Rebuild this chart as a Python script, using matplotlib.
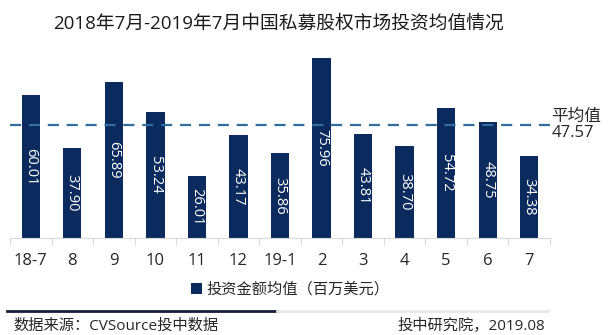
import matplotlib
matplotlib.use("Agg")
import matplotlib.pyplot as plt
from matplotlib.lines import Line2D

plt.rcParams['font.family'] = ['Open Sans', 'Noto Sans CJK SC', 'DejaVu Sans']

months = ['18-7', '8', '9', '10', '11', '12', '19-1', '2', '3', '4', '5', '6', '7']
avg_invest = [60.01, 37.90, 65.89, 53.24, 26.01, 43.17, 35.86,
              75.96, 43.81, 38.70, 54.72, 48.75, 34.38]
mean_value = 47.57

title = '2018年7月-2019年7月中国私募股权市场投资均值情况'
series_name = '投资金额均值（百万美元）'
source_note = '数据来源：CVSource投中数据'
credit_note = '投中研究院，2019.08'

navy = '#0b2a5e'
dash_blue = '#2f6e9e'
grey_text = '#262626'

fig = plt.figure(figsize=(6.1, 3.35), dpi=100)
ax = fig.add_axes([10 / 610, 97 / 335, 540 / 610, 190 / 335])

x = list(range(len(months)))
bars = ax.bar(x, avg_invest, width=0.44, color=navy, label=series_name, zorder=2)

for rect, v in zip(bars, avg_invest):
    ax.text(rect.get_x() + rect.get_width() / 2, v / 2, f'{v:.2f}',
            rotation=-90, ha='center', va='center', color='white',
            fontsize=10.5, zorder=3)

# average line across the plot
ax.axhline(mean_value, color=dash_blue, lw=1.6, ls=(0, (5, 3.5)), zorder=4)
ax.text(1.003, mean_value, '平均值\n47.57', transform=ax.get_yaxis_transform(),
        ha='left', va='center', fontsize=12, color=grey_text, linespacing=1.05)

ax.set_xlim(-0.5, len(months) - 0.5)
ax.set_ylim(0, 80)
ax.set_yticks([])
ax.set_xticks(x)
ax.set_xticklabels(months, fontsize=12, color=grey_text)
ax.set_xticks([i - 0.5 for i in range(len(months) + 1)], minor=True)
ax.tick_params(axis='x', which='major', length=0, pad=11)
ax.tick_params(axis='x', which='minor', length=5, color='#d9d9d9', width=0.8)
for s in ['top', 'right', 'left']:
    ax.spines[s].set_visible(False)
ax.spines['bottom'].set_color('#d9d9d9')
ax.spines['bottom'].set_linewidth(0.8)

fig.text(279 / 610, 1 - 24 / 335, title, ha='center', va='center',
         fontsize=13.5, color='#1a1a1a')

fig.legend(handles=[bars], labels=[series_name], loc='center',
           bbox_to_anchor=(290 / 610, 1 - 290 / 335), frameon=False,
           fontsize=11, handlelength=0.7, handleheight=0.7,
           handletextpad=0.3, labelcolor=grey_text)

# footer rule: dark left part, light grey remainder
fig.add_artist(Line2D([7 / 610, 277 / 610], [1 - 311 / 335] * 2,
                      color='#141e3c', lw=2))
fig.add_artist(Line2D([277 / 610, 548 / 610], [1 - 311 / 335] * 2,
                      color='#e8e8e8', lw=2))

fig.text(13 / 610, 1 - 326 / 335, source_note, ha='left', va='center',
         fontsize=11, color=grey_text)
fig.text(545 / 610, 1 - 326 / 335, credit_note, ha='right', va='center',
         fontsize=11, color=grey_text)

fig.savefig('out.png', dpi=100, facecolor='white')
